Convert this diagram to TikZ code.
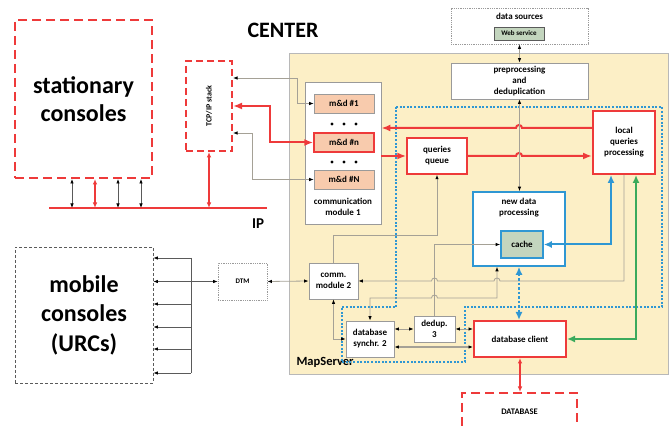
\documentclass[tikz,border=0pt]{standalone}
\usepackage{fontspec}
\setmainfont{Carlito}
\usetikzlibrary{arrows.meta}
\definecolor{myred}{HTML}{EE3A3A}
\definecolor{myblue}{HTML}{2F97D3}
\definecolor{mygreen}{HTML}{3BAA5C}
\definecolor{beige}{HTML}{FCEFC6}
\definecolor{peach}{HTML}{F8CBAD}
\definecolor{sage}{HTML}{C3D5BE}
\definecolor{lgray}{HTML}{A5A196}
\definecolor{bgray}{HTML}{9A9A9A}
\definecolor{dgray}{HTML}{5A5A5A}
\tikzset{
  tk/.tip={Latex[black,length=4.5pt,width=3.5pt]},
  rt/.tip={Latex[length=9pt,width=7pt]},
  st/.tip={Latex[length=5.5pt,width=4.5pt]},
  bt/.tip={Latex[length=8pt,width=7pt]},
  sfont/.style={font=\fontsize{9}{11}\selectfont\bfseries},
  box/.style={draw=bgray, fill=white, line width=0.8pt, align=center, inner sep=1pt, sfont},
  redbox/.style={box, draw=myred, line width=1.8pt},
  bluebox/.style={box, draw=myblue, line width=1.6pt},
  mdbox/.style={box, fill=peach, line width=0.6pt, minimum width=60pt, minimum height=19pt},
  reddash/.style={draw=myred, line width=2pt, dash pattern=on 9pt off 5pt},
  gl/.style={draw=lgray, line width=0.8pt},
  dgl/.style={draw=dgray, line width=0.7pt},
  rl/.style={draw=myred, line width=2pt},
  bl/.style={draw=myblue, line width=2pt},
  hl/.style={draw=mygreen, line width=2pt},
}
\begin{document}
\begin{tikzpicture}[x=1pt,y=-1pt]
\useasboundingbox (0,0) rectangle (670,427);

% MapServer background
\node[draw=bgray!70, fill=beige, line width=0.8pt, minimum width=379pt, minimum height=321pt, inner sep=0pt] (ms) at (478.5,213.5) {};
\node[anchor=west, font=\fontsize{12.5}{14}\selectfont\bfseries] (msl) at (293,362) {MapServer};

% blue dotted region
\draw[myblue, line width=1.5pt, dash pattern=on 2pt off 1.6pt]
  (396,107) -- (662,107) -- (662,307) -- (465,307) -- (465,362) -- (342,362) -- (342,307) -- (396,307) -- cycle;

% titles
\node[font=\fontsize{22}{26}\selectfont\bfseries] (ttl) at (283,30) {CENTER};
\node[font=\fontsize{15}{17}\selectfont\bfseries] (ipl) at (258,224) {IP};

% left side
\node[reddash, minimum width=137pt, minimum height=158pt, align=center, font=\fontsize{24}{28}\selectfont\bfseries] (stat) at (83.5,99) {stationary\\consoles};
\node[draw=myred, line width=2pt, dash pattern=on 7pt off 4pt, minimum width=46pt, minimum height=90pt] (tcp) at (209,106) {};
\node[rotate=90, font=\fontsize{8}{9}\selectfont\bfseries] (tcpl) at (209,106) {TCP/IP stack};
\node[draw=dgray, line width=0.8pt, dash pattern=on 3pt off 2pt, minimum width=138pt, minimum height=136pt, align=center, font=\fontsize{24}{29.5}\selectfont\bfseries] (mob) at (84,315) {mobile\\consoles\\(URCs)};
\node[draw=bgray, densely dotted, line width=0.8pt, minimum width=49pt, minimum height=37pt, font=\fontsize{7}{8}\selectfont\bfseries] (dtm) at (242.5,281.5) {DTM};

\coordinate (ipL) at (49,208);
\coordinate (ipR) at (267,208);
\draw[rl] (ipL) -- (ipR);

% data sources
\node[draw=bgray, densely dotted, line width=0.8pt, minimum width=137pt, minimum height=36pt] (ds) at (519.5,26) {};
\node[sfont] (dsl) at (519.5,16.5) {data sources};
\node[draw=dgray, fill=sage, line width=0.8pt, minimum width=50pt, minimum height=13pt, inner sep=0pt, font=\fontsize{7}{8}\selectfont\bfseries] (ws) at (519,33.5) {Web service};

% center blocks
\node[box, minimum width=137pt, minimum height=36pt] (pre) at (519.5,81) {preprocessing\\and\\deduplication};
\node[box, minimum width=76pt, minimum height=142pt] (cm1) at (343,153) {};
\node[sfont, align=center] (cm1l) at (343,207) {communication\\module 1};
\node[mdbox] (md1) at (344,103.5) {m\&d \#1};
\node[mdbox, draw=myred, line width=1.5pt] (mdn) at (344,142.5) {m\&d \#n};
\node[mdbox] (mdN) at (344,179.5) {m\&d \#N};
\foreach \xx in {332,344,356} {
  \fill (\xx,124) circle[radius=1.6];
  \fill (\xx,162) circle[radius=1.6];
}
\node[redbox, line width=1.5pt, minimum width=60pt, minimum height=36pt] (qq) at (437,156) {queries\\queue};
\node[redbox, line width=2pt, minimum width=62pt, minimum height=63pt] (lqp) at (624,142.5) {local\\queries\\processing};
\node[bluebox, minimum width=92pt, minimum height=74pt] (ndp) at (519,229) {};
\node[sfont, align=center] (ndpl) at (519,208) {new data\\processing};
\node[bluebox, fill=sage, minimum width=42pt, minimum height=27pt] (cache) at (522,244.5) {cache};
\node[box, minimum width=49pt, minimum height=36pt] (cm2) at (333.5,281) {comm.\\module 2};
\node[box, minimum width=48pt, minimum height=36pt] (dbs) at (370,339) {database\\synchr. 2};
\node[box, minimum width=41pt, minimum height=26pt] (dd3) at (434.5,329) {dedup.\\3};
\node[redbox, line width=2pt, minimum width=92pt, minimum height=36pt] (dbc) at (520,339) {database client};

\begin{scope}
  \clip (0,0) rectangle (670,427);
  \node[reddash, minimum width=115pt, minimum height=54pt] (db) at (519.5,420) {};
\end{scope}
\node[font=\fontsize{8.5}{10}\selectfont\bfseries] (dbl) at (519.5,412) {DATABASE};

% stationary consoles <-> IP
\coordinate (v72) at (72,0);
\coordinate (v95) at (95,0);
\coordinate (v118) at (118,0);
\coordinate (v141) at (141,0);
\draw[dgl, tk-tk] (stat.south -| v72) -- (ipL -| v72);
\draw[rl, st-st] (stat.south -| v95) -- (ipL -| v95);
\draw[dgl, tk-tk] (stat.south -| v118) -- (ipL -| v118);
\draw[dgl, tk-tk] (stat.south -| v141) -- (ipL -| v141);
\draw[rl, st-st] (tcp.south) -- (tcp.south |- ipL);

% TCP stack <-> m&d
\draw[gl, tk-tk] ([yshift=28pt]tcp.east) -- ++(64,0) |- (md1.west);
\draw[rl, rt-rt] (tcp.east) -- ++(37,0) |- (mdn.west);
\draw[gl, tk-tk] ([yshift=-27pt]tcp.east) -- ++(19,0) |- (mdN.west);

% red query flows
\draw[rl, -rt] ([yshift=14.5pt]lqp.west) -- (522,128) arc[start angle=0, end angle=-180, radius=3] -- ([yshift=25pt]cm1.east);
\draw[rl, -rt] (cm1.east |- qq.west) -- (qq.west);
\draw[rl, -rt] (qq.east) -- (516,156) arc[start angle=180, end angle=360, radius=3] -- (lqp.west |- qq.east);

% data sources / preprocessing / new data
\draw[gl, tk-tk] (ds.south) -- (pre.north);
\draw[gl, tk-tk] (pre.south) -- (pre.south |- ndp.north);

% gray internal connectors
\draw[gl, -tk] (cm2.north) -- ++(0,-27) -| (qq.south);
\draw[gl, -tk] (lqp.south) -- (lqp.south |- cm2.east) -- (500,281) arc[start angle=0, end angle=-180, radius=3] -- (437.5,281) arc[start angle=0, end angle=-180, radius=3] -- (cm2.east);
\draw[gl, tk-tk] ([xshift=-22pt]ndp.south) -- (497,298) -- (437.5,298) arc[start angle=0, end angle=-180, radius=3] -- (370,298) -- (dbs.north);
\draw[gl, -tk] (dd3.north) |- (cache.west);
\draw[gl, tk-tk] (cm2.south) |- (dbs.west);
\draw[gl, tk-tk] (dbs.east |- dd3.west) -- (dd3.west);
\draw[gl, tk-tk] (dd3.east) -- (dbc.west |- dd3.east);
\draw[gl, line width=1.3pt, tk-tk] ([yshift=-8pt]dbs.east) -- ([yshift=-8pt]dbc.west);

% blue / green / red to database
\draw[bl, dash pattern=on 2.5pt off 2pt, bt-bt] (ndp.south) -- (ndp.south |- dbc.north);
\draw[bl, bt-bt] ([xshift=-13pt]lqp.south) |- (cache.east);
\draw[hl, bt-bt] ([xshift=12pt]lqp.south) |- (dbc.east);
\draw[rl, st-st] (dbc.south) -- (dbc.south |- db.north);

% mobile side
\draw[gl, tk-tk] (cm2.west) -- (dtm.east);
\draw[dgl, tk-tk] (dtm.west) -- (mob.east |- dtm.west);
\coordinate (bT) at (191,258);
\coordinate (bB) at (191,373);
\draw[dgl] (bT) -- (bB);
\foreach \yy [count=\i] in {258,304,327,349,373} {
  \coordinate (m\i) at (191,\yy);
  \draw[dgl, -tk] (m\i) -- (mob.east |- m\i);
}
\end{tikzpicture}
\end{document}
